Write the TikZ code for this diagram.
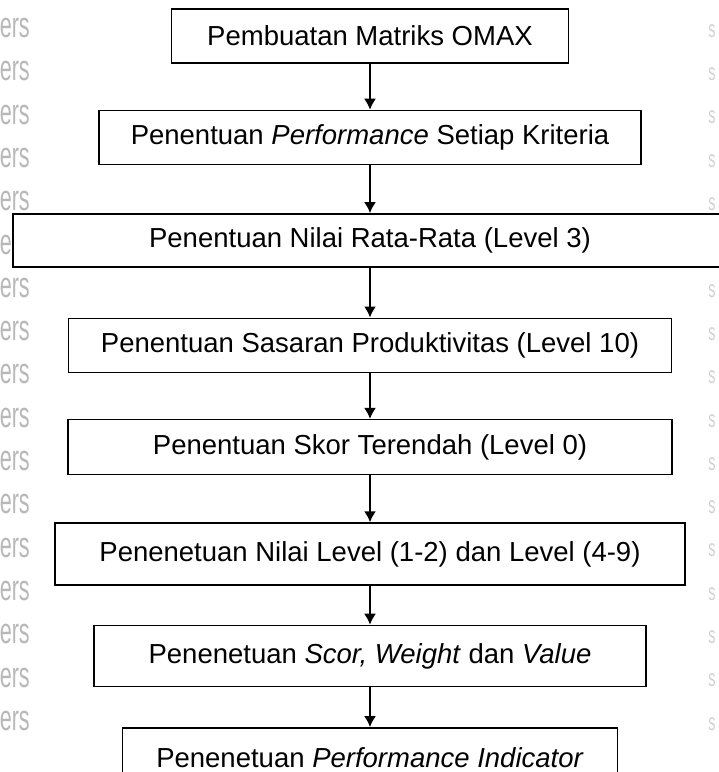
\documentclass[tikz,border=0pt]{standalone}
\usepackage{fontspec}
\setmainfont{Liberation Sans}
\usetikzlibrary{arrows.meta}
\usetikzlibrary{positioning}

\begin{document}
\begin{tikzpicture}[x=1pt, y=1pt, auto]
	\tikzstyle{stage}=[rectangle, draw=black, line width=1.4pt, fill=white, inner sep=0pt, minimum height=54pt, font=\fontsize{27.5}{33}\selectfont]
	\tikzstyle{connect}=[-{Latex[length=11pt, width=12pt]}, line width=1.8pt]
	\tikzstyle{wmark}=[text=black!28, inner sep=0pt, font=\fontsize{36}{36}\selectfont]
	\useasboundingbox (0,0) rectangle (719,-772);
	% watermark
	\foreach \k in {0,...,16} {
		\node[wmark, anchor=east] (wl\k) at (30, -28-43.3*\k) {\scalebox{0.6}[1]{ers}};
		\node[wmark, text=black!18, font=\fontsize{24}{24}\selectfont] (wr\k) at (712, -31-43.3*\k) {\scalebox{0.6}[1]{s}};
	}
	\node[stage, minimum width=397pt] (omax) at (370,-36) {Pembuatan Matriks OMAX};
	\node[stage, minimum width=542pt] (perf) [below =46pt of omax] {Penentuan \textit{Performance} Setiap Kriteria};
	\node[stage, minimum width=714pt, minimum height=53pt] (rata) [below =48pt of perf] {Penentuan Nilai Rata-Rata (Level 3)};
	\node[stage, minimum width=603pt] (sasaran) [below =50pt of rata] {Penentuan Sasaran Produktivitas (Level 10)};
	\node[stage, minimum width=604pt, minimum height=55pt] (skor) [below =46pt of sasaran] {Penentuan Skor Terendah (Level 0)};
	\node[stage, minimum width=630pt, minimum height=62pt] (level) [below =47pt of skor] {Penenetuan Nilai Level (1-2) dan Level (4-9)};
	\node[stage, minimum width=552pt, minimum height=61pt] (swv) [below =39pt of level] {Penenetuan \textit{Scor, Weight} dan \textit{Value}};
	\node[stage, minimum width=495pt, minimum height=60pt] (indicator) [below =40pt of swv] {Penenetuan \textit{Performance Indicator}};
	\path
	(omax) edge [connect] (perf)
	(perf) edge [connect] (rata)
	(rata) edge [connect] (sasaran)
	(sasaran) edge [connect] (skor)
	(skor) edge [connect] (level)
	(level) edge [connect] (swv)
	(swv) edge [connect] (indicator)
	;
\end{tikzpicture}
\end{document}
